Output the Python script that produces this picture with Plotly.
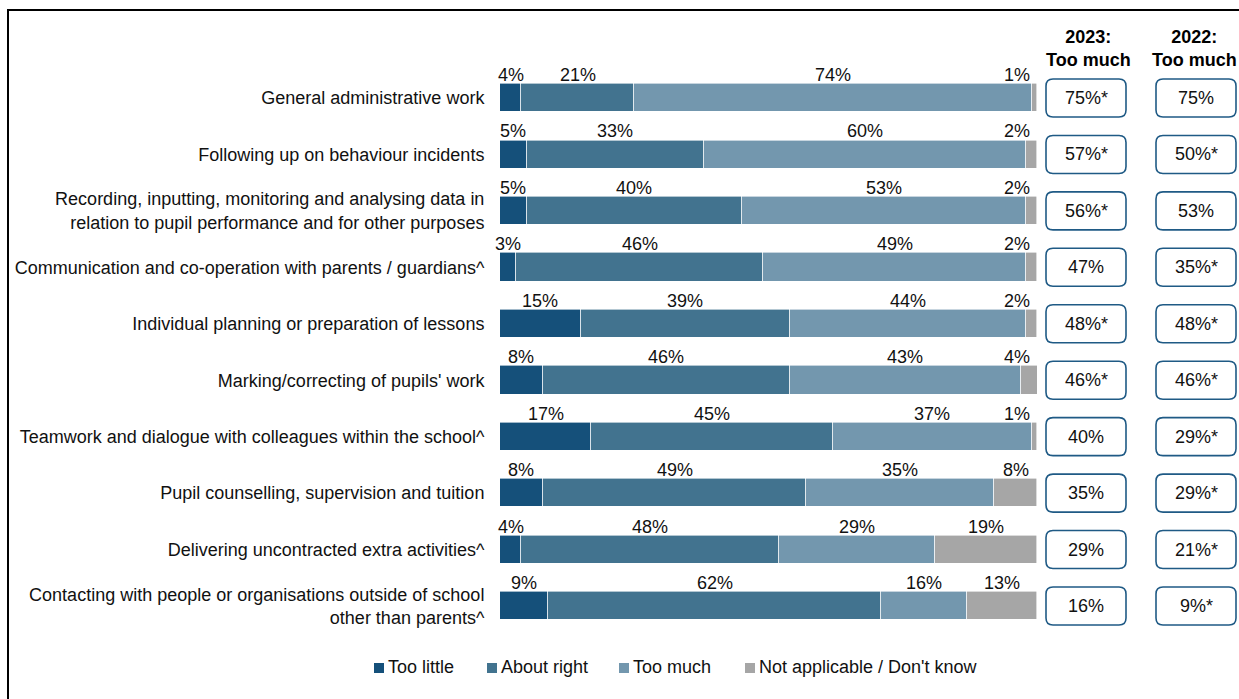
import plotly.graph_objects as go

W, H = 1239, 699

categories = [
    "General administrative work",
    "Following up on behaviour incidents",
    "Recording, inputting, monitoring and analysing data in<br>relation to pupil performance and for other purposes",
    "Communication and co-operation with parents / guardians^",
    "Individual planning or preparation of lessons",
    "Marking/correcting of pupils' work",
    "Teamwork and dialogue with colleagues within the school^",
    "Pupil counselling, supervision and tuition",
    "Delivering uncontracted extra activities^",
    "Contacting with people or organisations outside of school<br>other than parents^",
]

too_little = [4, 5, 5, 3, 15, 8, 17, 8, 4, 9]
about_right = [21, 33, 40, 46, 39, 46, 45, 49, 48, 62]
too_much = [74, 60, 53, 49, 44, 43, 37, 35, 29, 16]
not_applicable = [1, 2, 2, 2, 2, 4, 1, 8, 19, 13]

series_names = ["Too little", "About right", "Too much", "Not applicable / Don't know"]
series_colors = ["#15507a", "#42738f", "#7397ae", "#a6a6a6"]

too_much_2023 = ["75%*", "57%*", "56%*", "47%", "48%*", "46%*", "40%", "35%", "29%", "16%"]
too_much_2022 = ["75%", "50%*", "53%", "35%*", "48%*", "46%*", "29%*", "29%*", "21%*", "9%*"]
column_headers = ["<b>2023:<br>Too much</b>", "<b>2022:<br>Too much</b>"]

FONT = "Arial, 'Liberation Sans', sans-serif"
FS = 18
rows = list(range(len(categories)))
series = [too_little, about_right, too_much, not_applicable]

# plot area in pixels
X0, X1 = 500, 1037
ROW_TOP, ROW_STEP = 98, 56.44
y_top_px = ROW_TOP - ROW_STEP / 2
y_bot_px = ROW_TOP + ROW_STEP * (len(rows) - 0.5)


def px(x):
    return x / W


def py(y):
    return 1 - y / H


fig = go.Figure()
for name, color, vals in zip(series_names, series_colors, series):
    fig.add_trace(go.Bar(
        x=vals, y=rows, orientation="h", name=name,
        marker=dict(color=color, line=dict(color="white", width=0.6)),
        width=0.5, showlegend=False, hoverinfo="x+name",
    ))

annotations = []
shapes = []

# value labels above each segment
for r in rows:
    start = 0
    for vals in series:
        v = vals[r]
        centre = min(start + v / 2, 96.2)
        annotations.append(dict(
            x=centre, y=r, xref="x", yref="y", text=f"{v}%", showarrow=False,
            yshift=23, xanchor="center", yanchor="middle",
            font=dict(family=FONT, size=FS, color="#111"),
        ))
        start += v

# rounded boxes with the "Too much" comparison figures
BOX_W, BOX_H, RAD = 80, 38, 7
box_centres = [1086, 1196]
half_h = BOX_H / 2 / ROW_STEP
rad_y = RAD / ROW_STEP
for cx, labels in zip(box_centres, [too_much_2023, too_much_2022]):
    xl, xr = px(cx - BOX_W / 2), px(cx + BOX_W / 2)
    rx = px(RAD)
    for r, lab in zip(rows, labels):
        yt, yb = r - half_h, r + half_h
        path = (
            f"M {xl + rx},{yt} L {xr - rx},{yt} Q {xr},{yt} {xr},{yt + rad_y} "
            f"L {xr},{yb - rad_y} Q {xr},{yb} {xr - rx},{yb} "
            f"L {xl + rx},{yb} Q {xl},{yb} {xl},{yb - rad_y} "
            f"L {xl},{yt + rad_y} Q {xl},{yt} {xl + rx},{yt} Z"
        )
        shapes.append(dict(type="path", path=path, xref="paper", yref="y",
                           line=dict(color="#1f5a85", width=1.6), fillcolor="white"))
        annotations.append(dict(
            x=px(cx), y=r, xref="paper", yref="y", text=lab, showarrow=False,
            xanchor="center", yanchor="middle",
            font=dict(family=FONT, size=FS, color="#111"),
        ))

for cx, head in zip([1088, 1194], column_headers):
    annotations.append(dict(
        x=px(cx), y=py(48), xref="paper", yref="paper", text=head, showarrow=False,
        xanchor="center", yanchor="middle",
        font=dict(family=FONT, size=FS, color="#000"),
    ))

# legend drawn as swatches and labels
legend_x = [374, 487, 619, 745]
for lx, name, color in zip(legend_x, series_names, series_colors):
    shapes.append(dict(type="rect", xref="paper", yref="paper",
                       x0=px(lx), x1=px(lx + 10), y0=py(673), y1=py(663),
                       fillcolor=color, line=dict(width=0)))
    annotations.append(dict(
        x=px(lx + 12), y=py(667), xref="paper", yref="paper", text=name,
        showarrow=False, xanchor="left", yanchor="middle",
        font=dict(family=FONT, size=FS, color="#111"),
    ))

# outer frame
shapes.append(dict(type="rect", xref="paper", yref="paper",
                   x0=px(8), x1=px(W + 10), y0=py(H + 10), y1=py(10),
                   line=dict(color="black", width=2), fillcolor="rgba(0,0,0,0)"))

fig.update_layout(
    width=W, height=H, autosize=False,
    margin=dict(l=0, r=0, t=0, b=0),
    paper_bgcolor="white", plot_bgcolor="white",
    barmode="stack", bargap=0,
    xaxis=dict(domain=[px(X0), px(X1)], range=[0, 100], visible=False, fixedrange=True),
    yaxis=dict(
        domain=[py(y_bot_px), py(y_top_px)], range=[len(rows) - 0.5, -0.5],
        tickmode="array", tickvals=rows, ticktext=categories,
        showgrid=False, zeroline=False, showline=False,
        ticks="outside", ticklen=0, ticklabelstandoff=11,
        tickfont=dict(family=FONT, size=FS, color="#111"),
    ),
    annotations=annotations, shapes=shapes,
)

fig.write_html("out.html")
